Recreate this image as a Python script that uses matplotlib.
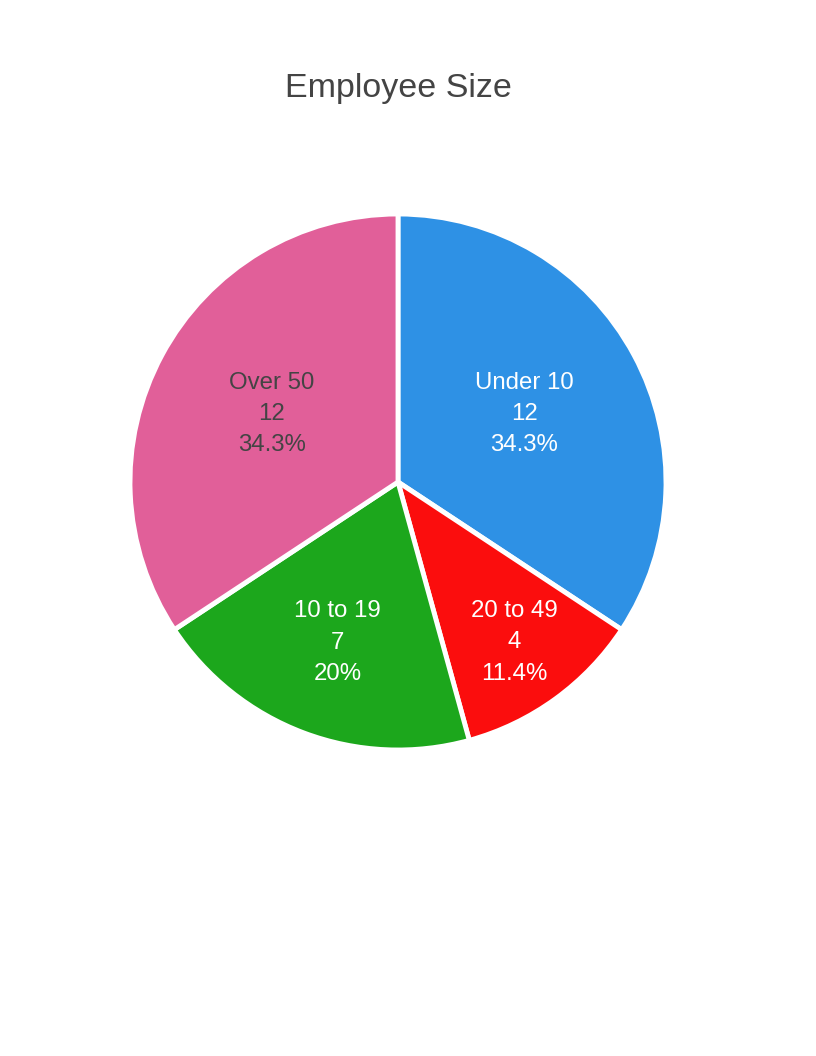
import numpy as np
import matplotlib
matplotlib.use('Agg')
import matplotlib.pyplot as plt

plt.rcParams['font.family'] = ['Liberation Sans', 'DejaVu Sans']

# dados do grafico
labels = ['Under 10', '20 to 49', '10 to 19', 'Over 50']
values = [12, 4, 7, 12]
colors = ['#2E91E5', '#FB0D0D', '#1CA71C', '#E15F99']
text_colors = ['white', 'white', 'white', '#444444']
label_radius = [0.535, 0.74, 0.64, 0.535]

W, H = 816, 1056
fig = plt.figure(figsize=(W / 100, H / 100), dpi=100)

cx, cy, r = 398, 482, 268
ax = fig.add_axes([(cx - r) / W, 1 - (cy + r) / H, 2 * r / W, 2 * r / H])

wedges, _ = ax.pie(values, colors=colors, startangle=90, counterclock=False,
                   radius=1, wedgeprops=dict(edgecolor='white', linewidth=3.5))

total = sum(values)
for w, lab, v, tc, lr in zip(wedges, labels, values, text_colors, label_radius):
    ang = np.deg2rad((w.theta1 + w.theta2) / 2)
    pct = v / total * 100
    pct_txt = ('%.1f' % pct).rstrip('0').rstrip('.') + '%'
    ax.text(lr * np.cos(ang), lr * np.sin(ang), '%s\n%d\n%s' % (lab, v, pct_txt),
            ha='center', va='center', color=tc, fontsize=17.3, linespacing=1.55)

ax.set_xlim(-1, 1)
ax.set_ylim(-1, 1)
ax.set_aspect('equal')
ax.axis('off')

fig.text(398 / W, 1 - 88 / H, 'Employee Size', ha='center', va='center',
         fontsize=24.5, color='#444444')

fig.savefig('out.png', dpi=100)
